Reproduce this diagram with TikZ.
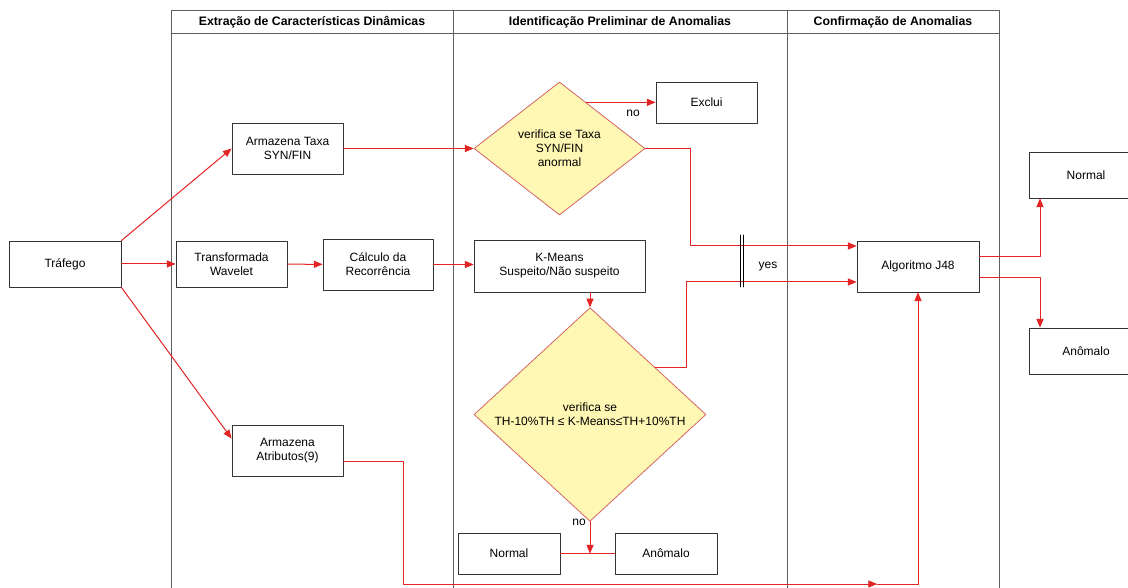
\documentclass[tikz,border=0pt]{standalone}
\usepackage{fontspec}
\setmainfont{Liberation Sans}
\usepackage{tikz}
\usetikzlibrary{arrows,shapes.geometric}
\definecolor{lnred}{RGB}{226,36,36}
\definecolor{dmdfill}{RGB}{255,248,180}
\definecolor{dmdline}{RGB}{212,100,100}
\definecolor{lanegray}{RGB}{95,95,95}

\begin{document}
\begin{tikzpicture}[line cap=round,line join=round,>=triangle 45,x=1pt,y=-1pt,
	box/.style={draw=black!80,fill=white,align=center,inner sep=0pt,line width=0.9pt,font=\fontsize{12}{14}\selectfont},
	dmd/.style={diamond,draw=dmdline,fill=dmdfill,align=center,inner sep=0pt,line width=0.8pt,font=\fontsize{12}{14}\selectfont},
	flow/.style={draw=lnred,line width=1pt},
	lbl/.style={font=\fontsize{12}{14}\selectfont},
	head/.style={font=\fontsize{12.3}{14}\selectfont\bfseries}]
					\useasboundingbox (0,0) rectangle (1128,588);
					
					% swimlanes
					\draw[lanegray,line width=0.9pt] (171,10) rectangle (999,600);
					\draw[lanegray,line width=0.9pt] (171,33) -- (999,33);
					\draw[lanegray,line width=0.9pt] (453,10) -- (453,600);
					\draw[lanegray,line width=0.9pt] (787,10) -- (787,600);
					
					\node[head] (h1) at (312,22) {Extração de Características Dinâmicas};
					\node[head] (h2) at (620,22) {Identificação Preliminar de Anomalias};
					\node[head] (h3) at (893,22) {Confirmação de Anomalias};
					
					% boxes
					\node[box,minimum width=112,minimum height=46] (traf) at (65,264) {Tráfego};
					\node[box,minimum width=111,minimum height=46] (wav) at (231.5,264) {Transformada\\Wavelet};
					\node[box,minimum width=110,minimum height=51] (calc) at (378,264.5) {Cálculo da\\Recorrência};
					\node[box,minimum width=111,minimum height=51] (taxa) at (287.5,148.5) {Armazena Taxa\\SYN/FIN};
					\node[box,minimum width=111,minimum height=51] (attr) at (287.5,450.5) {Armazena\\Atributos(9)};
					\node[box,minimum width=171,minimum height=52] (kmeans) at (559.5,266) {K-Means\\Suspeito/Não suspeito};
					\node[box,minimum width=101,minimum height=41] (exclui) at (706.5,102.5) {Exclui};
					\node[box,minimum width=122,minimum height=51] (j48) at (918,266.5) {Algoritmo J48};
					\node[box,minimum width=102,minimum height=41] (nb) at (509,553.5) {Normal};
					\node[box,minimum width=102,minimum height=41] (ab) at (666,553.5) {Anômalo};
					\node[box,minimum width=114,minimum height=46] (nr) at (1086,175) {Normal};
					\node[box,minimum width=114,minimum height=46] (ar) at (1086,351) {Anômalo};
					
					% decisions
					\node[dmd,minimum width=171,minimum height=133] (d1) at (559.5,148.5) {verifica se Taxa\\SYN/FIN\\anormal};
					\node[dmd,minimum width=232,minimum height=172] (d2) at (590,414.5) {verifica se\\TH-10\%TH ≤ K-Means≤TH+10\%TH};
					
					\coordinate (bend1) at (690,246);
					\coordinate (bend2) at (686,282);
					\coordinate (atbend) at (403,584);
					\coordinate (midarrow) at (877,584);
					\coordinate (outx) at (1040,0);
					
					% connectors
					\draw[flow,->] (traf.north east) -- (taxa.west);
					\draw[flow,->] (traf) -- (wav);
					\draw[flow,->] (traf.south east) -- ([yshift=12pt]attr.west);
					\draw[flow,->] (wav) -- (calc);
					\draw[flow,->] (calc.east) -- (calc.east -| kmeans.west);
					\draw[flow,->] (taxa.east) -- (d1.west);
					\draw[flow,->] (d1.60) -- (d1.60 -| exclui.west);
					\draw[flow,->] (d1.east) -| (bend1) -- (bend1 -| j48.west);
					\draw[flow,->] (kmeans.south -| d2.north) -- (d2.north);
					\draw[flow,->] (d2.36) -| (bend2) -- (bend2 -| j48.west);
					\draw[flow] (nb.east) -- (ab.west);
					\draw[flow,->] (d2.south) -- (d2.south |- nb.east);
					\draw[flow,->] ([yshift=-10.5pt]attr.east) -| (atbend) -- (midarrow);
					\draw[flow,->] (midarrow) -| (j48.south);
					\draw[flow,->] ([yshift=9.5pt]j48.east) -| (outx |- nr.south);
					\draw[flow,->] ([yshift=-11.5pt]j48.east) -| (outx |- ar.north);
					
					% yes mark
					\draw[black,line width=0.8pt] (740,235) -- (740,287);
					\draw[black,line width=0.8pt] (743,235) -- (743,287);
					
					\node[lbl] (no1) at (633,113) {no};
					\node[lbl] (no2) at (579,522) {no};
					\node[lbl] (yes) at (768,267) {yes};
				\end{tikzpicture}
\end{document}
